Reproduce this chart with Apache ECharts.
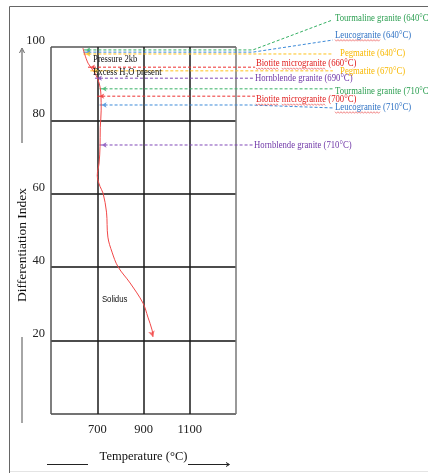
<!DOCTYPE html>
<html>
<head>
<meta charset="utf-8">
<script src="https://cdn.jsdelivr.net/npm/echarts@6/dist/echarts.min.js"></script>
<style>
  html, body { margin: 0; padding: 0; background: #fff; }
  #chart { width: 428px; height: 473px; }
</style>
</head>
<body>
<div id="chart"></div>
<script>
// Solidus at 2 kb, excess H2O: temperature (°C) against differentiation index
const solidusT  = [638, 660, 690, 708, 716, 717, 713, 712, 708, 700, 712, 725, 740, 746, 764, 790, 842, 898, 919, 937, 941];
const solidusDI = [99.7, 95.6, 92.9, 90.2, 86.9, 82.8, 78.0, 72.8, 68.4, 65.0, 62.0, 60.2, 55.0, 48.2, 44.1, 40.1, 35.7, 30.2, 26.4, 22.9, 21.0];

// Rock types, their solidus temperatures and differentiation indices
const rockNames = ['Tourmaline granite', 'Leucogranite', 'Pegmatite', 'Biotite microgranite', 'Pegmatite',
                   'Hornblende granite', 'Tourmaline granite', 'Biotite microgranite', 'Leucogranite', 'Hornblende granite'];
const rockTemps = [640, 640, 640, 660, 670, 690, 710, 700, 710, 710];
const rockDI    = [99.2, 98.6, 98.1, 94.5, 93.5, 91.5, 88.6, 86.6, 84.2, 73.3];

// Axis ticks
const xTicks = [700, 900, 1100];
const yTicks = [20, 40, 60, 80, 100];

// Leader routing (data units) and label anchors
const leaderBendT = [1373, 1373, null, null, null, null, null, null, 1360, null];
const leaderEndT  = [1719, 1719, 1719, 1382, 1719, 1382, 1719, 1382, 1719, 1373];
const leaderEndDI = [107.4, 101.9, null, null, null, null, null, null, 83.4, null];
const labelT  = [1728, 1728, 1750, 1386, 1750, 1382, 1728, 1386, 1728, 1378];
const labelDI = [107.9, 103.3, 98.4, 95.6, 93.5, 91.6, 88.0, 85.8, 83.65, 73.3];

// Words carrying a wavy proofing underline
const underlinedWords = ['Biotite', 'microgranite', 'Leucogranite'];

const lineColor = {
  'Tourmaline granite': '#35b064',
  'Leucogranite': '#3d8ad8',
  'Pegmatite': '#ffc21a',
  'Biotite microgranite': '#ee3030',
  'Hornblende granite': '#8048b8'
};
const textColor = {
  'Tourmaline granite': '#2a9e50',
  'Leucogranite': '#2f72c4',
  'Pegmatite': '#f8b800',
  'Biotite microgranite': '#e02020',
  'Hornblende granite': '#7038a8'
};

const serif = '"Liberation Serif", "Times New Roman", serif';
const labelFont = '11px ' + serif;
const labelScale = 0.79;

const chart = echarts.init(document.getElementById('chart'), null, { renderer: 'canvas' });

const series = [];

// Solidus curve
series.push({
  type: 'line',
  data: solidusT.map((t, i) => [t, solidusDI[i]]),
  smooth: 0.35,
  symbol: 'none',
  lineStyle: { color: '#f24848', width: 1 },
  z: 5
});
// Arrowhead at the end of the solidus
series.push({
  type: 'scatter',
  data: [[solidusT[solidusT.length - 1], solidusDI[solidusDI.length - 1]]],
  symbol: 'arrow',
  symbolSize: [5, 6],
  symbolRotate: 195,
  itemStyle: { color: '#f24848' },
  z: 5
});
// Arrowheads at the solidus end of each leader
series.push({
  type: 'scatter',
  data: rockNames.map((name, i) => ({
    value: [rockTemps[i], rockDI[i]],
    itemStyle: { color: lineColor[name] }
  })),
  symbol: 'arrow',
  symbolSize: [4, 5],
  symbolRotate: 90,
  symbolOffset: [2, 0],
  z: 6
});

chart.setOption({
  animation: false,
  backgroundColor: '#fff',
  grid: { left: 51, top: 47, width: 185, height: 367, containLabel: false },
  xAxis: {
    type: 'value',
    min: 500, max: 1300, interval: 200,
    name: 'Temperature (°C)',
    nameLocation: 'middle',
    nameGap: 36,
    nameTextStyle: { fontFamily: serif, fontSize: 12.5, color: '#111' },
    axisLine: { show: false },
    axisTick: { show: false },
    axisLabel: {
      fontFamily: serif, fontSize: 12.5, color: '#222', margin: 9,
      formatter: v => (xTicks.indexOf(v) >= 0 ? String(v) : '')
    },
    splitLine: { show: true, lineStyle: { color: ['#555', '#1a1a1a', '#1a1a1a', '#1a1a1a', '#777'], width: 1.5 } }
  },
  yAxis: {
    type: 'value',
    min: 0, max: 100, interval: 20,
    axisLine: { show: false },
    axisTick: { show: false },
    axisLabel: {
      fontFamily: serif, fontSize: 12.5, color: '#222', margin: 6,
      verticalAlign: 'bottom',
      formatter: v => (yTicks.indexOf(v) >= 0 ? String(v) : '')
    },
    splitLine: { show: true, lineStyle: { color: ['#444', '#111', '#111', '#111', '#111', '#555'], width: 1.5 } }
  },
  series: series
});

// Leaders, labels and notes placed through the grid's coordinate conversion
const toPx = (t, d) => chart.convertToPixel({ gridIndex: 0 }, [t, d]);
const measureCtx = document.createElement('canvas').getContext('2d');
measureCtx.font = labelFont;
const textW = s => measureCtx.measureText(s).width * labelScale;

function wavy(x0, x1, y) {
  const pts = [];
  let up = true;
  for (let x = x0; x <= x1; x += 1.5) {
    pts.push([x, y + (up ? -0.8 : 0.8)]);
    up = !up;
  }
  return pts;
}

const graphics = [];

rockNames.forEach((name, i) => {
  const pts = [toPx(rockTemps[i], rockDI[i])];
  if (leaderBendT[i] !== null) pts.push(toPx(leaderBendT[i], rockDI[i]));
  pts.push(toPx(leaderEndT[i], leaderEndDI[i] !== null ? leaderEndDI[i] : rockDI[i]));
  graphics.push({
    type: 'polyline', z: 4,
    shape: { points: pts },
    style: { stroke: lineColor[name], lineWidth: 1, lineDash: [3, 2], fill: null }
  });
  const p = toPx(labelT[i], labelDI[i]);
  graphics.push({
    type: 'text', x: p[0], y: p[1], scaleX: labelScale, z: 10,
    style: {
      text: name + ' (' + rockTemps[i] + '°C)',
      fill: textColor[name],
      font: labelFont,
      align: 'left', verticalAlign: 'middle'
    }
  });
  // Wavy underline beneath flagged words
  let offset = 0;
  name.split(' ').forEach(word => {
    if (underlinedWords.indexOf(word) >= 0) {
      const x0 = p[0] + textW(name.slice(0, offset));
      const x1 = x0 + textW(word);
      graphics.push({
        type: 'polyline', z: 9,
        shape: { points: wavy(x0, x1, p[1] + 5.5) },
        style: { stroke: '#e84040', lineWidth: 0.8, fill: null, opacity: 0.8 }
      });
    }
    offset += word.length + 1;
  });
});

const notes = [
  { t: 682, d: 96.7, text: 'Pressure 2kb', font: '10.5px ' + serif },
  { t: 682, d: 93.2, text: 'Excess H₂O present', font: '10.5px ' + serif },
  { t: 720, d: 31.1, text: 'Solidus', font: '9.5px "Liberation Sans", Arial, sans-serif' }
];
notes.forEach(n => {
  const p = toPx(n.t, n.d);
  graphics.push({
    type: 'text', x: p[0], y: p[1], scaleX: 0.82, z: 10,
    style: { text: n.text, fill: '#111', font: n.font, align: 'left', verticalAlign: 'middle' }
  });
});

// Vertical axis title
graphics.push({
  type: 'text', x: 22, y: 245, rotation: Math.PI / 2, z: 10,
  style: { text: 'Differentiation Index', fill: '#111', font: '13.5px ' + serif, align: 'center', verticalAlign: 'middle' }
});

// Page frame and axis arrows
graphics.push(
  { type: 'polyline', shape: { points: [[9.5, 473], [9.5, 6.5], [428, 6.5]] }, style: { stroke: '#666', lineWidth: 1, fill: null } },
  { type: 'line', shape: { x1: 10, y1: 471.5, x2: 428, y2: 471.5 }, style: { stroke: '#e4e4e4', lineWidth: 1 } },
  { type: 'line', shape: { x1: 22, y1: 143, x2: 22, y2: 50 }, style: { stroke: '#666', lineWidth: 1.2 } },
  { type: 'polyline', shape: { points: [[19.5, 53], [22, 48], [24.5, 53]] }, style: { stroke: '#666', lineWidth: 1, fill: null } },
  { type: 'line', shape: { x1: 22, y1: 337, x2: 22, y2: 423 }, style: { stroke: '#888', lineWidth: 1.5 } },
  { type: 'line', shape: { x1: 47, y1: 464.5, x2: 88, y2: 464.5 }, style: { stroke: '#222', lineWidth: 1 } },
  { type: 'line', shape: { x1: 188, y1: 464.5, x2: 229, y2: 464.5 }, style: { stroke: '#222', lineWidth: 1 } },
  { type: 'polyline', shape: { points: [[226, 462.5], [229.5, 464.5], [226, 466.5]] }, style: { stroke: '#222', lineWidth: 1, fill: null } }
);

chart.setOption({ graphic: graphics });
</script>
</body>
</html>
